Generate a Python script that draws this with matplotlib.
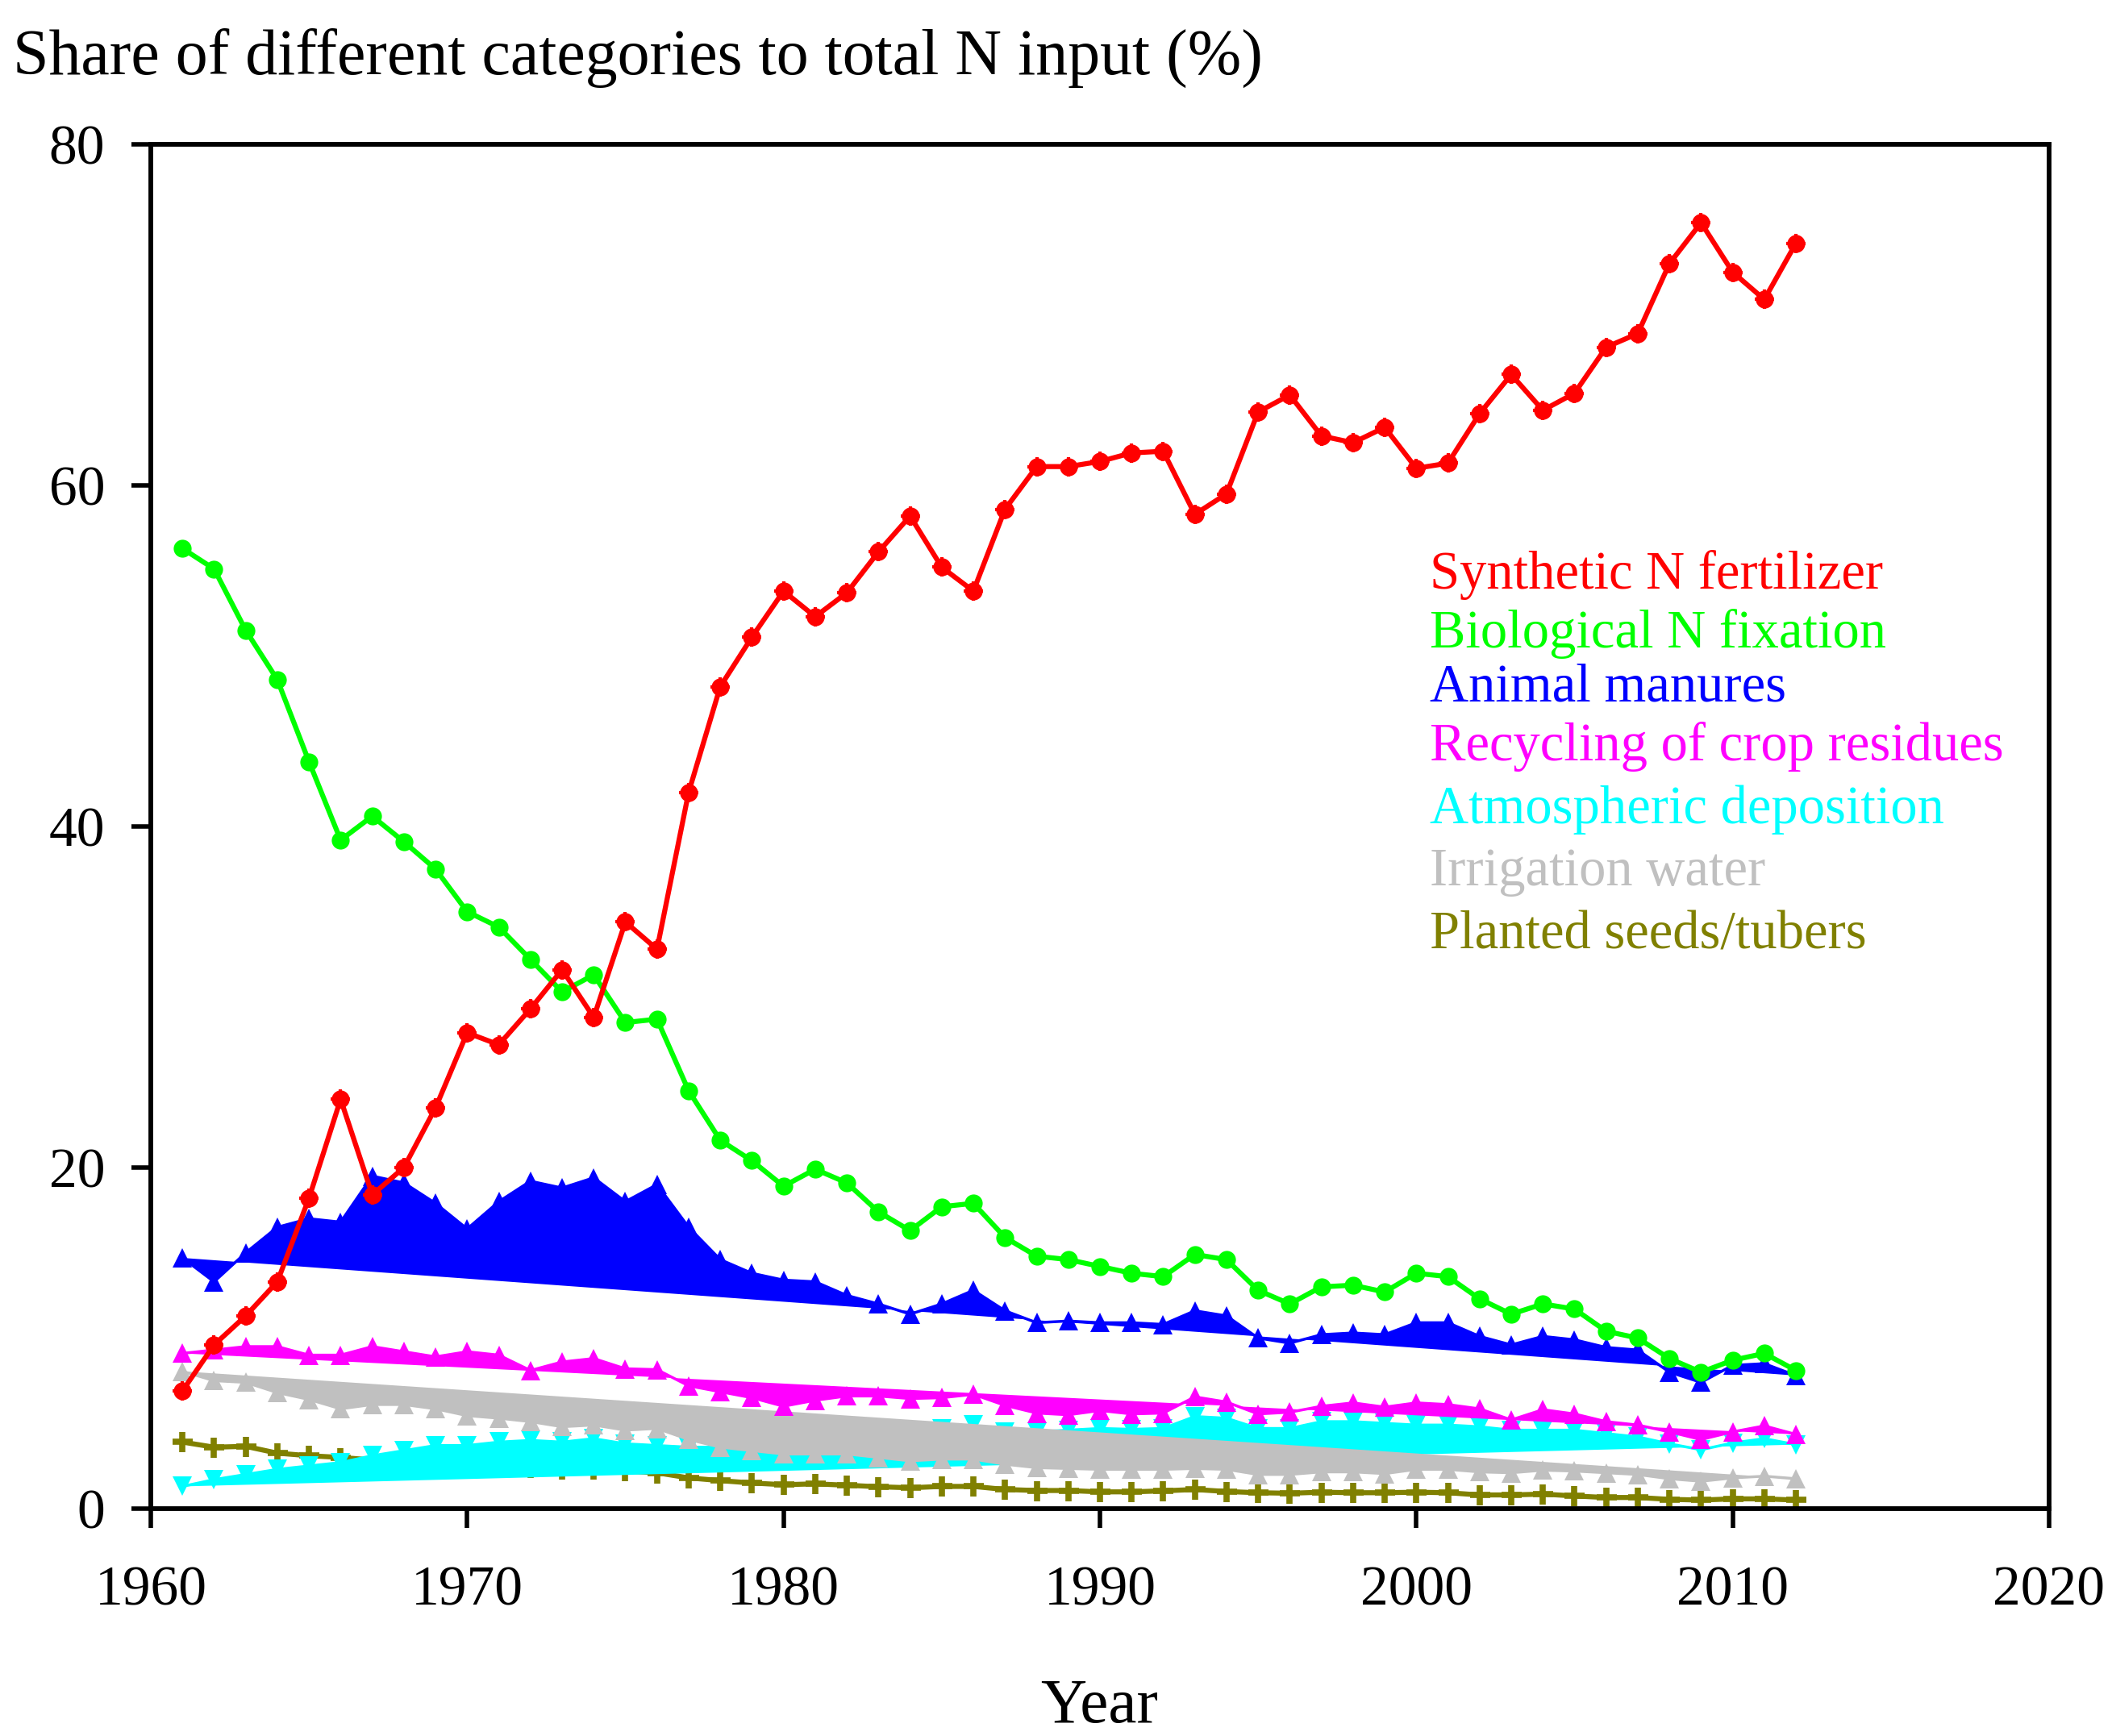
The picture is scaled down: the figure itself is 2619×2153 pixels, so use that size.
import numpy as np
import matplotlib
matplotlib.use("Agg")
import matplotlib.pyplot as plt

plt.rcParams['font.family'] = ['Liberation Serif', 'DejaVu Serif']

years = np.arange(1961, 2013)

synthetic = [6.9, 9.6, 11.3, 13.3, 18.2, 24.0, 18.4, 20.0, 23.5, 27.9,
             27.2, 29.3, 31.6, 28.8, 34.4, 32.8, 42.0, 48.2, 51.1, 53.8,
             52.3, 53.7, 56.1, 58.2, 55.2, 53.8, 58.6, 61.1, 61.1, 61.4,
             61.9, 62.0, 58.3, 59.5, 64.3, 65.3, 62.9, 62.5, 63.4, 61.0,
             61.3, 64.2, 66.5, 64.4, 65.4, 68.1, 68.9, 73.0, 75.4, 72.5,
             70.9, 74.2]
biological = [56.3, 55.1, 51.5, 48.6, 43.8, 39.2, 40.6, 39.1, 37.5, 35.0,
              34.1, 32.2, 30.3, 31.3, 28.5, 28.7, 24.5, 21.6, 20.4, 18.9,
              19.9, 19.1, 17.4, 16.3, 17.7, 17.9, 15.9, 14.8, 14.6, 14.2,
              13.8, 13.6, 14.9, 14.6, 12.8, 12.0, 13.0, 13.1, 12.7, 13.8,
              13.6, 12.3, 11.4, 12.0, 11.7, 10.4, 10.0, 8.8, 8.0, 8.7,
              9.1, 8.1]
manures = [14.7, 13.3, 15.0, 16.5, 17.0, 16.8, 19.5, 19.1, 17.9, 16.4,
           18.0, 19.2, 18.8, 19.4, 18.0, 19.0, 16.5, 14.6, 13.8, 13.4,
           13.3, 12.5, 12.0, 11.4, 12.0, 12.8, 11.6, 10.9, 11.0, 10.9,
           10.9, 10.8, 11.6, 11.3, 10.0, 9.7, 10.2, 10.3, 10.2, 10.9,
           10.9, 10.1, 9.6, 10.1, 9.9, 9.45, 9.3, 8.0, 7.4, 8.4,
           8.5, 7.8]
residues = [9.1, 9.3, 9.5, 9.5, 9.0, 9.0, 9.5, 9.2, 8.9, 9.2,
            9.0, 8.1, 8.6, 8.8, 8.2, 8.15, 7.2, 6.85, 6.5, 6.0,
            6.35, 6.6, 6.6, 6.45, 6.5, 6.7, 6.05, 5.6, 5.5, 5.75,
            5.55, 5.6, 6.55, 6.25, 5.55, 5.65, 6.0, 6.2, 5.95, 6.2,
            6.1, 5.85, 5.2, 5.8, 5.55, 5.1, 4.9, 4.5, 4.05, 4.5,
            4.85, 4.35]
deposition = [1.3, 1.7, 2.0, 2.3, 2.5, 2.7, 3.1, 3.4, 3.7, 3.7,
              3.9, 4.0, 3.9, 4.1, 3.8, 3.7, 3.6, 3.6, 3.7, 3.8,
              3.9, 4.0, 4.1, 4.2, 4.7, 4.9, 4.5, 4.5, 4.6, 4.7,
              4.65, 4.7, 5.4, 5.3, 4.7, 4.7, 5.1, 5.1, 5.0, 4.9,
              4.9, 4.8, 4.6, 4.6, 4.6, 4.4, 4.2, 3.8, 3.45, 3.85,
              4.1, 3.75]
irrigation = [8.05, 7.5, 7.4, 6.8, 6.4, 5.85, 6.1, 6.1, 5.85, 5.45,
              5.3, 5.1, 4.8, 4.9, 4.6, 4.7, 4.05, 3.6, 3.4, 3.2,
              3.2, 3.2, 3.0, 2.8, 2.9, 2.9, 2.6, 2.4, 2.35, 2.3,
              2.3, 2.3, 2.35, 2.3, 2.0, 2.0, 2.15, 2.15, 2.05, 2.3,
              2.3, 2.15, 2.1, 2.25, 2.2, 2.1, 2.0, 1.75, 1.6, 1.8,
              1.9, 1.75]
seeds = [3.9, 3.6, 3.65, 3.25, 3.1, 3.0, 2.85, 2.75, 2.65, 2.55,
         2.5, 2.4, 2.3, 2.3, 2.2, 2.1, 1.8, 1.64, 1.5, 1.4,
         1.45, 1.37, 1.28, 1.22, 1.3, 1.3, 1.12, 1.06, 1.06, 0.98,
         0.98, 1.04, 1.12, 1.0, 0.93, 0.9, 0.96, 0.93, 0.93, 0.96,
         0.93, 0.8, 0.8, 0.85, 0.74, 0.65, 0.65, 0.54, 0.5, 0.57,
         0.57, 0.5]

labels = ["Synthetic N fertilizer", "Biological N fixation", "Animal manures",
          "Recycling of crop residues", "Atmospheric deposition",
          "Irrigation water", "Planted seeds/tubers"]
colors = ["#FF0000", "#00FF00", "#0000FF", "#FF00FF", "#00FFFF",
          "#C0C0C0", "#808000"]

fig = plt.figure(figsize=(26.19, 21.53), dpi=100)
ax = fig.add_axes([0.0714, 0.131, 0.8988, 0.7859])

# planted seeds: plain line with crosses (lowest layer)
ax.plot(years, seeds, color=colors[6], lw=4.5, marker='+', ms=18, mew=5.5, zorder=1)

# filled series (polygon closes from the last point back to the first)
filled = [(deposition, colors[4], 'v', 2),
          (irrigation, colors[5], '^', 3),
          (residues, colors[3], '^', 4),
          (manures, colors[2], '^', 5)]
for vals, c, m, z in filled:
    ax.fill(years, vals, color=c, lw=0, zorder=z)
    ax.plot(years, vals, color=c, lw=2.5, marker=m, ms=17, mew=0, zorder=z)

ax.plot(years, biological, color=colors[1], lw=4.5, marker='o', ms=16, mew=0, zorder=6)
ax.plot(years, synthetic, color=colors[0], lw=4.5, marker='o', ms=16, mew=0, zorder=7)
ax.plot(years, synthetic, color=colors[0], lw=0, marker='+', ms=17, mew=3, zorder=7)

ax.set_xlim(1960, 2020)
ax.set_ylim(0, 80)
ax.set_xticks(np.arange(1960, 2021, 10))
ax.set_yticks(np.arange(0, 81, 20))
ax.tick_params(axis='both', direction='out', length=17, width=4, labelsize=50,
               top=False, right=False)
ax.tick_params(axis='x', pad=34)
ax.tick_params(axis='y', pad=24)
for s in ax.spines.values():
    s.set_linewidth(4.2)

fig.text(0.5205, 0.008, "Year", fontsize=57, ha='center', va='baseline')
fig.text(0.006, 0.9575, "Share of different categories to total N input (%)",
         fontsize=57.5, ha='left', va='baseline')

legend_y = [0.661, 0.627, 0.596, 0.562, 0.526, 0.490, 0.4536]
for lab, c, yy in zip(labels, colors, legend_y):
    fig.text(0.677, yy, lab, color=c, fontsize=48, ha='left', va='baseline')

fig.savefig("out.png", dpi=100)
